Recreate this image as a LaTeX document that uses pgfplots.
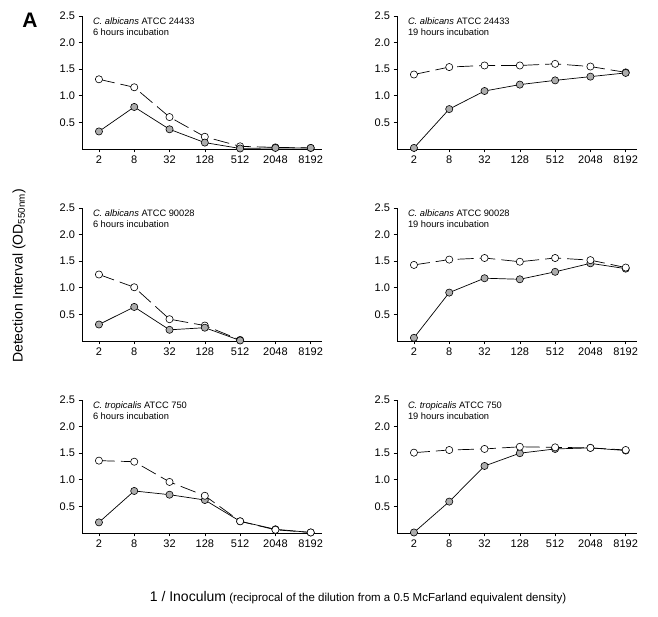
\documentclass[border=0pt]{standalone}
\usepackage{pgfplots}
\pgfplotsset{compat=1.18}
\usepackage{fontspec}
\setmainfont{Liberation Sans}

% shared look of the six panels
\pgfplotsset{
  panel/.style={
    scale only axis, width=240pt, height=133pt,
    axis lines*=left,
    xmin=-0.48, xmax=6.32, ymin=0, ymax=2.5,
    xtick={0,...,6}, xticklabels={2,8,32,128,512,2048,8192},
    ytick={0.5,1.0,1.5,2.0,2.5},
    yticklabel style={/pgf/number format/.cd, fixed, fixed zerofill, precision=1},
    /pgf/number format/assume math mode=true,
    tick align=outside, major tick length=3.5pt,
    tick style={black, line width=0.6pt},
    axis line style={line width=0.6pt},
    ticklabel style={font=\fontsize{11}{13}\selectfont},
    clip=false,
  },
  openser/.style={black, line width=0.7pt, dash pattern=on 16pt off 6pt,
    mark=*, mark size=3.6pt, mark options={solid, fill=white, line width=0.6pt}},
  fillser/.style={black, line width=0.7pt,
    mark=*, mark size=3.6pt, mark options={solid, fill=gray!65, line width=0.6pt}},
}
\newcommand{\ptitle}[2]{\node[anchor=north west, align=left, inner sep=0pt,
  font=\fontsize{9.3}{11}\selectfont] at (rel axis cs:0.045,0.985) {#1\\#2};}

\begin{document}
\begin{tikzpicture}[x=1pt,y=1pt]
\useasboundingbox (0,0) rectangle (658,617);

% top left
\begin{axis}[panel, at={(82pt,468pt)}, anchor=south west]
\addplot[openser] coordinates {(0,1.31) (1,1.16) (2,0.60) (3,0.23) (4,0.05) (5,0.03) (6,0.02)};
\addplot[fillser] coordinates {(0,0.33) (1,0.79) (2,0.37) (3,0.12) (4,0.01) (5,0.02) (6,0.02)};
\ptitle{\textit{C. albicans} ATCC 24433}{6 hours incubation}
\end{axis}

% top right
\begin{axis}[panel, at={(397pt,468pt)}, anchor=south west]
\addplot[openser] coordinates {(0,1.40) (1,1.54) (2,1.57) (3,1.57) (4,1.60) (5,1.55) (6,1.44)};
\addplot[fillser] coordinates {(0,0.02) (1,0.75) (2,1.09) (3,1.21) (4,1.29) (5,1.36) (6,1.43)};
\ptitle{\textit{C. albicans} ATCC 24433}{19 hours incubation}
\end{axis}

% middle left
\begin{axis}[panel, at={(82pt,276pt)}, anchor=south west]
\addplot[openser] coordinates {(0,1.25) (1,1.01) (2,0.41) (3,0.29) (4,0.02)};
\addplot[fillser] coordinates {(0,0.31) (1,0.64) (2,0.21) (3,0.25) (4,0.01)};
\ptitle{\textit{C. albicans} ATCC 90028}{6 hours incubation}
\end{axis}

% middle right
\begin{axis}[panel, at={(397pt,276pt)}, anchor=south west]
\addplot[fillser] coordinates {(0,0.06) (1,0.91) (2,1.18) (3,1.16) (4,1.30) (5,1.46) (6,1.36)};
\addplot[openser] coordinates {(0,1.43) (1,1.53) (2,1.56) (3,1.49) (4,1.56) (5,1.52) (6,1.38)};
\ptitle{\textit{C. albicans} ATCC 90028}{19 hours incubation}
\end{axis}

% bottom left
\begin{axis}[panel, at={(82pt,84pt)}, anchor=south west]
\addplot[fillser] coordinates {(0,0.20) (1,0.79) (2,0.72) (3,0.62) (4,0.22) (5,0.07) (6,0.01)};
\addplot[openser] coordinates {(0,1.36) (1,1.34) (2,0.96) (3,0.70) (4,0.22) (5,0.06) (6,0.01)};
\ptitle{\textit{C. tropicalis} ATCC 750}{6 hours incubation}
\end{axis}

% bottom right
\begin{axis}[panel, at={(397pt,84pt)}, anchor=south west]
\addplot[fillser] coordinates {(0,0.01) (1,0.59) (2,1.26) (3,1.50) (4,1.58) (5,1.60) (6,1.55)};
\addplot[openser] coordinates {(0,1.51) (1,1.56) (2,1.58) (3,1.62) (4,1.61) (5,1.60) (6,1.56)};
\ptitle{\textit{C. tropicalis} ATCC 750}{19 hours incubation}
\end{axis}

% labels
\node[font=\bfseries\fontsize{21}{24}\selectfont] at (30,597) {A};
\node[rotate=90, font=\fontsize{14}{16}\selectfont] at (19,341)
  {Detection Interval (OD\textsubscript{550nm})};
\node[font=\fontsize{11.5}{13}\selectfont] at (358,19)
  {{\fontsize{14}{16}\selectfont 1 / Inoculum} (reciprocal of the dilution from a 0.5 McFarland equivalent density)};
\end{tikzpicture}
\end{document}
